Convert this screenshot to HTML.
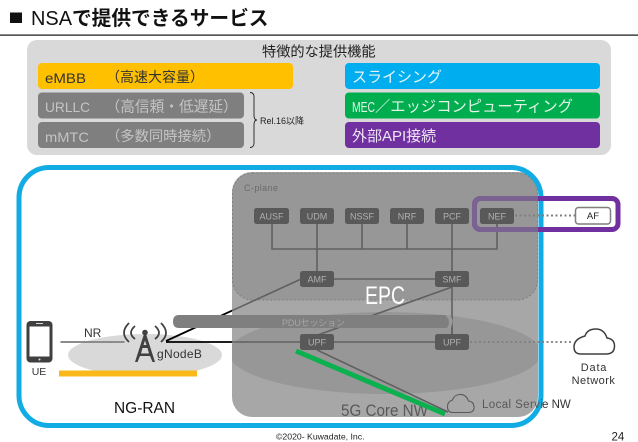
<!DOCTYPE html>
<html><head><meta charset="utf-8"><style>
html,body{margin:0;padding:0;background:#fff;width:638px;height:442px;overflow:hidden}
svg{display:block}
text{font-family:"Liberation Sans","Noto Sans CJK JP",sans-serif}
</style></head><body>
<svg width="638" height="442" viewBox="0 0 638 442" xmlns="http://www.w3.org/2000/svg">
<defs>
<clipPath id="core"><rect x="232" y="172" width="306" height="245" rx="20"/></clipPath>
<clipPath id="inCore"><rect x="232" y="172" width="306" height="245"/></clipPath>
</defs>
<rect width="638" height="442" fill="#fff"/>
<!-- title -->
<rect x="10" y="12.500" width="12" height="10.500" fill="#111"/>
<text x="31" y="25" font-size="20" fill="#111" textLength="41" lengthAdjust="spacingAndGlyphs">NSA</text>
<text x="72" y="25" font-size="19.700" fill="#111" font-weight="bold">で提供できるサービス</text>
<rect x="0" y="34.500" width="638" height="1.200" fill="#111"/>
<!-- feature panel -->
<rect x="27" y="40" width="584" height="115" rx="10" fill="#d9d9d9"/>
<text x="262" y="56.500" font-size="14.200" fill="#222">特徴的な提供機能</text>
<rect x="38" y="63" width="255" height="26" rx="4" fill="#ffc000"/>
<rect x="38" y="92.500" width="206" height="26" rx="4" fill="#7f7f7f"/>
<rect x="38" y="122" width="206" height="26" rx="4" fill="#7f7f7f"/>
<text x="45" y="83" font-size="14" fill="#333" textLength="41" lengthAdjust="spacingAndGlyphs">eMBB</text>
<text x="106" y="82" font-size="14" fill="#333">（高速大容量）</text>
<text x="45" y="112" font-size="14" fill="#c4c4c4" textLength="45" lengthAdjust="spacingAndGlyphs">URLLC</text>
<text x="105.500" y="111.500" font-size="14.700" fill="#c4c4c4">（高信頼・低遅延）</text>
<text x="45" y="142" font-size="14" fill="#c4c4c4" textLength="44" lengthAdjust="spacingAndGlyphs">mMTC</text>
<text x="106" y="141" font-size="14.300" fill="#c4c4c4">（多数同時接続）</text>
<path d="M250 92.500 Q254 92.500 254 97 V115 Q254 120 257 120 Q254 120 254 125 V143 Q254 147.500 250 147.500" fill="none" stroke="#222" stroke-width="0.900"/>
<text x="260" y="124" font-size="9" fill="#222">Rel.16以降</text>
<rect x="345" y="63" width="255" height="26" rx="4" fill="#00aeef"/>
<rect x="345" y="92.500" width="255" height="26" rx="4" fill="#00ae4f"/>
<rect x="345" y="122" width="255" height="26" rx="4" fill="#7030a0"/>
<text x="352" y="82" font-size="15" fill="#e4f4fb">スライシング</text>
<text x="352" y="112" font-size="14.500" fill="#dff3e6" textLength="23" lengthAdjust="spacingAndGlyphs">MEC</text>
<text x="375" y="111.500" font-size="15.300" fill="#dff3e6">／エッジコンピューティング</text>
<text x="352" y="141" font-size="15" fill="#eee5f3">外部API接続</text>
<!-- gNB ellipse and bar -->
<ellipse cx="145" cy="355" rx="77" ry="21" fill="#d9d9d9"/>
<rect x="59" y="370.500" width="138" height="6" fill="#fbb81b"/>
<!-- black links outside core -->
<line x1="166" y1="341" x2="233" y2="310.200" stroke="#000" stroke-width="1.800"/>
<line x1="166" y1="342" x2="233" y2="342" stroke="#000" stroke-width="1.800"/>
<!-- core -->
<rect x="232" y="172" width="306" height="245" rx="20" fill="#a7a7a7"/>
<g clip-path="url(#core)">
<ellipse cx="385" cy="353" rx="156" ry="41" fill="#979797"/>
</g>
<rect x="232.500" y="173" width="305" height="127" rx="20" fill="#979797" stroke="#777" stroke-width="0.800" stroke-dasharray="2 2"/>
<text x="244" y="191" font-size="9" fill="#6b6b6b" textLength="34">C-plane</text>
<!-- lines in core -->
<g stroke="#606060" stroke-width="1.600" fill="none">
<path d="M272 224V249H497V224M317 224V279M362 224V249M407 224V249M452 224V342"/>
<line x1="317" y1="279" x2="452" y2="279"/>
<line x1="232" y1="310.700" x2="300" y2="279.500"/>
<line x1="452" y1="287" x2="315" y2="336"/>
<line x1="232" y1="342" x2="452" y2="342"/>
<line x1="317" y1="350" x2="448" y2="412"/>
</g>
<!-- tube -->
<path d="M179 315H447Q452 321.500 447 328H179Q173 328 173 321.500T179 315Z" fill="#7f7f7f"/>
<path d="M445 315Q452 321.500 447 328H450Q455 321.500 450 315Z" fill="#9a9a9a"/>
<text x="282" y="326" font-size="9" fill="#a5a5a5" textLength="63">PDUセッション</text>
<line x1="452" y1="328" x2="452" y2="334" stroke="#606060" stroke-width="1.600"/>
<!-- nodes -->
<g fill="#595959">
<rect x="254" y="208" width="35" height="16" rx="2.500"/>
<rect x="300" y="208" width="34" height="16" rx="2.500"/>
<rect x="345" y="208" width="34" height="16" rx="2.500"/>
<rect x="390" y="208" width="34" height="16" rx="2.500"/>
<rect x="435" y="208" width="34" height="16" rx="2.500"/>
<rect x="480" y="208" width="34" height="16" rx="2.500"/>
<rect x="300" y="271" width="34" height="16" rx="2.500"/>
<rect x="435" y="271" width="34" height="16" rx="2.500"/>
<rect x="300" y="334" width="34" height="16" rx="2.500"/>
<rect x="435" y="334" width="34" height="16" rx="2.500"/>
</g>
<g font-size="9" fill="#b0b0b0" text-anchor="middle">
<text x="271.500" y="219.500">AUSF</text><text x="317" y="219.500">UDM</text>
<text x="362" y="219.500">NSSF</text><text x="407" y="219.500">NRF</text>
<text x="452" y="219.500">PCF</text><text x="497" y="219.500">NEF</text>
<text x="317" y="282.500">AMF</text><text x="452" y="282.500">SMF</text>
<text x="317" y="345.500">UPF</text><text x="452" y="345.500">UPF</text>
</g>
<text x="365" y="304" font-size="25" fill="#fff" textLength="40" lengthAdjust="spacingAndGlyphs">EPC</text>
<text x="341" y="416" font-size="16.500" fill="#595959" textLength="87" lengthAdjust="spacingAndGlyphs">5G Core NW</text>
<!-- green line -->
<line x1="296" y1="351" x2="445" y2="414" stroke="#0bb04f" stroke-width="5"/>
<!-- local cloud -->
<path d="M453 412.500H468Q474.500 412.500 474 406.500Q473.500 401.500 468.500 401Q466 394 459.500 394.500Q454 395 452.500 400Q447.500 401.500 447.500 406.500Q447.500 412.500 453 412.500Z" fill="none" stroke="#595959" stroke-width="1.100"/>
<!-- blue frame -->
<rect x="19" y="167.500" width="522" height="258" rx="30" fill="none" stroke="#12ace5" stroke-width="5"/>
<!-- purple frame -->
<rect x="474.500" y="198.500" width="143.500" height="31" rx="6" fill="none" stroke="#7030a0" stroke-width="5"/>
<rect x="474.500" y="198.500" width="143.500" height="31" rx="6" fill="none" stroke="#7a6292" stroke-width="5" clip-path="url(#inCore)"/>
<!-- AF -->
<line x1="515" y1="215.500" x2="575" y2="215.500" stroke="#7f7f7f" stroke-width="2" stroke-dasharray="2 2.500"/>
<rect x="575.500" y="207.500" width="35" height="16.500" rx="3" fill="#fff" stroke="#7f7f7f" stroke-width="1.500"/>
<text x="593" y="219" font-size="9.500" fill="#222" text-anchor="middle">AF</text>
<!-- data network -->
<line x1="470" y1="342" x2="572" y2="342" stroke="#7f7f7f" stroke-width="1.800" stroke-dasharray="2 2.500"/>
<path d="M581 354H606Q614.500 354 614.500 346Q614.500 339 607 338Q604 328.500 595 329Q587 329.500 585 336Q574 339 574 347Q574 354 581 354Z" fill="#fff" stroke="#404040" stroke-width="1.500"/>
<text x="594" y="371" font-size="11" fill="#333" text-anchor="middle" letter-spacing="0.800">Data</text>
<text x="593.500" y="384" font-size="11" fill="#333" text-anchor="middle" letter-spacing="0.500">Network</text>
<text x="482" y="408" font-size="11.500" fill="#595959" letter-spacing="0.400">Local Servi</text>
<text x="542" y="408" font-size="11.500" fill="#333">e NW</text>
<!-- UE -->
<rect x="26.500" y="321" width="26" height="41.500" rx="4" fill="#404040"/>
<rect x="29.500" y="326.500" width="20" height="30" fill="#fff"/>
<rect x="36" y="323" width="7" height="1" fill="#ddd"/>
<circle cx="39.500" cy="359.500" r="1" fill="#ddd"/>
<text x="39" y="375" font-size="10.500" fill="#333" text-anchor="middle">UE</text>
<rect x="60.500" y="341" width="64" height="2" fill="#8c8c8c"/>
<text x="84" y="337" font-size="12" fill="#333">NR</text>
<!-- antenna -->
<g fill="none" stroke="#404040" stroke-width="1.800">
<path d="M129 323Q119 333 129 342"/>
<path d="M135 326Q127 333 135 339"/>
<path d="M161 323Q171 333 161 342"/>
<path d="M155 326Q163 333 155 339"/>
</g>
<circle cx="145" cy="332.500" r="2.800" fill="#404040"/>
<path d="M144 334H146L155 362H152.500L150 356H140L137.500 362H135ZM143.500 345H146.500L145 340.500ZM142.500 348L141 353.500H149L147.500 348Z" fill="#404040" fill-rule="evenodd"/>
<text x="157" y="358" font-size="12" fill="#333" letter-spacing="0.300">gNodeB</text>
<text x="114" y="413" font-size="16" fill="#111" textLength="61" lengthAdjust="spacingAndGlyphs">NG-RAN</text>
<!-- footer -->
<text x="276" y="439.500" font-size="8.700" fill="#222">©2020- Kuwadate, Inc.</text>
<text x="611.500" y="440.500" font-size="11.500" fill="#222">24</text>
</svg>
</body></html>
